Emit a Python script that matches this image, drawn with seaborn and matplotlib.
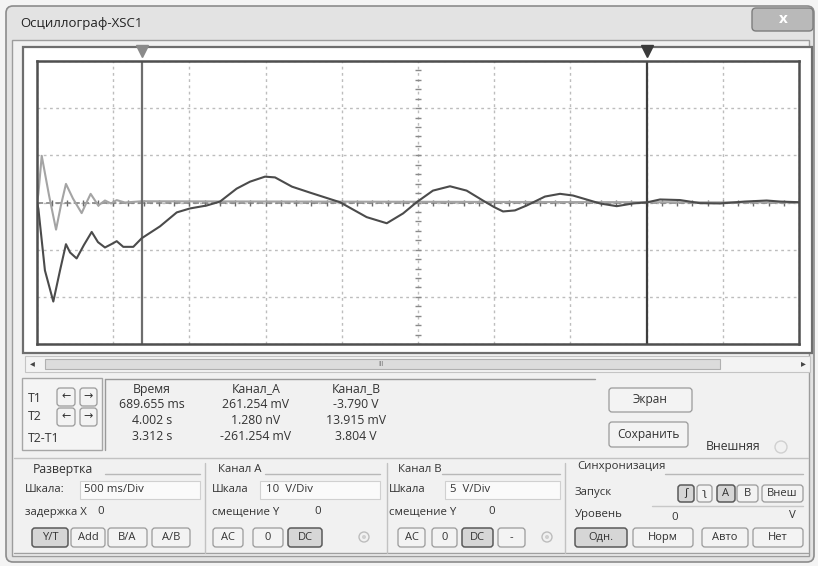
import numpy as np
import pandas as pd
import matplotlib
matplotlib.use("Agg")
import matplotlib.pyplot as plt
import matplotlib.transforms as mtransforms
from matplotlib.patches import Rectangle, FancyBboxPatch, Circle
import seaborn as sns

# ---------------- data ----------------
time_b = [0.000, 0.009, 0.052, 0.107, 0.151, 0.190, 0.217, 0.260, 0.308, 0.359,
          0.400, 0.446, 0.490, 0.523, 0.566, 0.632, 0.687, 0.807, 0.917, 1.004,
          1.113, 1.201, 1.310, 1.398, 1.496, 1.562, 1.673, 1.791, 1.988, 2.163,
          2.295, 2.402, 2.491, 2.598, 2.710, 2.819, 2.926, 3.000, 3.058, 3.136,
          3.213, 3.333, 3.432, 3.517, 3.694, 3.804, 3.911, 4.002, 4.088, 4.219,
          4.350, 4.481, 4.645, 4.788, 4.875, 5.000]
chan_b = [0.0, -0.66, -7.2, -10.5, -7.2, -4.42, -5.3, -5.93, -4.5, -3.12,
          -4.2, -4.77, -4.4, -4.1, -4.7, -4.7, -3.79, -2.53, -1.05, -0.63,
          -0.32, 0.10, 1.47, 2.21, 2.74, 2.66, 1.68, 1.05, 0.03, -1.55,
          -2.20, -1.16, 0.03, 1.26, 1.72, 1.26, 0.21, -0.49, -0.95, -0.84,
          -0.32, 0.63, 0.92, 0.74, -0.10, -0.39, -0.10, 0.014, 0.32, 0.26,
          -0.07, -0.10, 0.10, 0.21, 0.10, 0.03]
time_a = [0.000, 0.009, 0.031, 0.079, 0.125, 0.157, 0.190, 0.236, 0.293, 0.322,
          0.352, 0.402, 0.446, 0.486, 0.523, 0.577, 0.687, 5.000]
chan_a = [0.0, 1.83, 9.9, 1.5, -5.75, -0.6, 3.94, 0.84, -2.25, -0.2,
          1.83, -0.63, 0.42, -0.2, 0.5, 0.0, 0.26, 0.0]

t1_time = 0.689655
t2_time = 4.002
time_per_div = 0.5
a_volts_per_div = 10
b_volts_per_div = 5
n_xdiv = 10
n_ydiv = 6

window_title = "Осциллограф-XSC1"
table_headers = ["Время", "Канал_А", "Канал_В"]
table_rows = [["689.655 ms", "261.254 mV", "-3.790 V"],
              ["4.002 s", "1.280 nV", "13.915 mV"],
              ["3.312 s", "-261.254 mV", "3.804 V"]]
row_labels = ["T1", "T2", "T2-T1"]

# ---------------- figure ----------------
sns.set_theme(style="white")
plt.rcParams['font.family'] = ['Open Sans', 'DejaVu Sans']

W, H = 818, 566
fig = plt.figure(figsize=(W / 100, H / 100), dpi=100)
fig.patch.set_facecolor("#f4f4f4")

bg = fig.add_axes([0, 0, 1, 1])
bg.set_xlim(0, W)
bg.set_ylim(H, 0)
bg.axis("off")

TXT = "#333333"
FS = 8.2
FS_TAB = 8.8


def rect(x0, y0, x1, y1, fc="none", ec="#999999", lw=1.0, z=1):
    bg.add_patch(Rectangle((x0, y0), x1 - x0, y1 - y0, facecolor=fc,
                           edgecolor=ec, linewidth=lw, zorder=z))


def rbox(x0, y0, x1, y1, fc, ec, lw=1.0, r=3, z=2):
    bg.add_patch(FancyBboxPatch((x0, y0), x1 - x0, y1 - y0,
                                boxstyle=f"round,pad=0,rounding_size={r}",
                                facecolor=fc, edgecolor=ec, linewidth=lw, zorder=z))


def text(x, y, s, fs=FS, ha="left", color=TXT, **kw):
    bg.text(x, y, s, fontsize=fs, ha=ha, va="center", color=color, zorder=5, **kw)


def button(x0, y0, x1, y1, label, pressed=False, fs=FS - 0.2):
    fc = "#d6d6d6" if pressed else "#f3f3f3"
    ec = "#5a5a5a" if pressed else "#9a9a9a"
    rbox(x0, y0, x1, y1, fc, ec, lw=1.1 if pressed else 0.9)
    text((x0 + x1) / 2, (y0 + y1) / 2, label, fs=fs, ha="center")


def hline(x0, x1, y, c="#a8a8a8", lw=1.0):
    bg.plot([x0, x1], [y, y], color=c, lw=lw, zorder=3)


def vline(x, y0, y1, c="#a8a8a8", lw=1.0):
    bg.plot([x, x], [y0, y1], color=c, lw=lw, zorder=3)


# window frame
rbox(6, 6, 814, 562, "#e3e3e3", "#8c8c8c", lw=1.2, r=7, z=0)
rect(12, 40, 809, 556, fc="#f1f1f1", ec="#9c9c9c", lw=1.0, z=0)
text(20, 24, window_title, fs=9.5, color="#222222")
rbox(752, 8, 813, 31, "#b9b9b9", "#7d7d7d", lw=1.0, r=4)
text(783, 19, "x", fs=11, ha="center", color="white", fontweight="bold")

# display panel
rect(23, 47, 812, 353, fc="white", ec="#6e6e6e", lw=1.6, z=0)

# scrollbar
rect(25, 356, 810, 372, fc="#f3f3f3", ec="#c4c4c4", lw=0.8)
rect(45, 359, 720, 369, fc="#dcdcdc", ec="#b0b0b0", lw=0.8)
text(32, 364, "◂", fs=7, ha="center", color="#444444")
text(803, 364, "▸", fs=7, ha="center", color="#444444")
text(381, 364, "III", fs=5, ha="center", color="#777777")

# cursor panel
rect(22, 378, 102, 450, fc="#f4f4f4", ec="#a6a6a6", lw=1.0)
hline(105, 595, 379, c="#9a9a9a")
vline(105, 379, 450, c="#9a9a9a")
for lbl, y in zip(row_labels, [398, 416, 439]):
    text(28, y, lbl, fs=FS_TAB)
for yc in [397, 417]:
    button(57, yc - 9, 75, yc + 9, "←", fs=8)
    button(80, yc - 9, 97, yc + 9, "→", fs=8)

col_x = [152, 256, 356]
for cx, hdr in zip(col_x, table_headers):
    text(cx, 389, hdr, fs=FS_TAB, ha="center")
for r, y in zip(table_rows, [405, 421, 437]):
    for cx, val in zip(col_x, r):
        text(cx, y, val, fs=FS_TAB, ha="center")

button(609, 388, 692, 412, "Экран", fs=8.6)
button(609, 422, 688, 447, "Сохранить", fs=8.6)
text(706, 447, "Внешняя", fs=8.8)
bg.add_patch(Circle((781, 447), 6, facecolor="none", edgecolor="#d0d0d0", lw=1.0, zorder=3))

# lower control groups
hline(14, 808, 458, c="#c2c2c2")
hline(14, 808, 553, c="#a0a0a0")
for x in [205, 387, 565]:
    vline(x, 463, 553, c="#c2c2c2")

text(33, 469, "Развертка", fs=8.8)
hline(105, 200, 474, c="#b8b8b8")
text(218, 469, "Канал А")
hline(265, 380, 474, c="#b8b8b8")
text(398, 469, "Канал В")
hline(442, 560, 474, c="#b8b8b8")
text(577, 467, "Синхронизация")
hline(665, 803, 474, c="#b8b8b8")

# Развертка
text(25, 490, "Шкала:")
rect(80, 481, 200, 499, fc="#fafafa", ec="#d0d0d0", lw=0.8)
text(84, 490, "500 ms/Div")
text(25, 512, "задержка X")
text(97, 512, "0")
for (x0, x1, lbl, p) in [(32, 68, "Y/T", True), (71, 105, "Add", False),
                         (108, 147, "B/A", False), (152, 190, "A/B", False)]:
    button(x0, 528, x1, 547, lbl, pressed=p)

# Канал А
text(212, 490, "Шкала")
rect(260, 481, 380, 499, fc="#fafafa", ec="#d0d0d0", lw=0.8)
text(266, 490, "10  V/Div")
text(212, 512, "смещение Y")
text(314, 512, "0")
for (x0, x1, lbl, p) in [(213, 243, "AC", False), (253, 283, "0", False),
                         (288, 322, "DC", True)]:
    button(x0, 528, x1, 547, lbl, pressed=p)
bg.add_patch(Circle((364, 537), 5, facecolor="none", edgecolor="#bdbdbd", lw=1.0, zorder=3))
bg.add_patch(Circle((364, 537), 2, facecolor="#cfcfcf", edgecolor="none", zorder=3))

# Канал В
text(389, 490, "Шкала")
rect(445, 481, 560, 499, fc="#fafafa", ec="#d0d0d0", lw=0.8)
text(450, 490, "5  V/Div")
text(389, 512, "смещение Y")
text(488, 512, "0")
for (x0, x1, lbl, p) in [(398, 425, "AC", False), (432, 457, "0", False),
                         (462, 493, "DC", True), (498, 525, "-", False)]:
    button(x0, 528, x1, 547, lbl, pressed=p)
bg.add_patch(Circle((547, 537), 5, facecolor="none", edgecolor="#bdbdbd", lw=1.0, zorder=3))
bg.add_patch(Circle((547, 537), 2, facecolor="#cfcfcf", edgecolor="none", zorder=3))

# Синхронизация
text(575, 493, "Запуск")
for (x0, x1, lbl, p) in [(678, 694, "ʃ", True), (697, 712, "ʅ", False),
                         (717, 735, "A", True), (737, 758, "B", False),
                         (762, 803, "Внеш", False)]:
    button(x0, 485, x1, 502, lbl, pressed=p, fs=8)
text(575, 515, "Уровень")
hline(652, 803, 506, c="#c8c8c8")
text(671, 517, "0")
text(789, 516, "V")
for (x0, x1, lbl, p) in [(575, 627, "Одн.", True), (633, 693, "Норм", False),
                         (702, 748, "Авто", False), (753, 803, "Нет", False)]:
    button(x0, 528, x1, 547, lbl, pressed=p)

# ---------------- oscilloscope screen ----------------
sx0, sy0, sx1, sy1 = 37, 61, 799, 344
ax = fig.add_axes([sx0 / W, 1 - sy1 / H, (sx1 - sx0) / W, (sy1 - sy0) / H])
ax.set_facecolor("white")
t_max = n_xdiv * time_per_div
a_lim = n_ydiv / 2 * a_volts_per_div
b_lim = n_ydiv / 2 * b_volts_per_div
ax.set_xlim(0, t_max)
ax.set_ylim(-a_lim, a_lim)
ax.set_xticks(np.arange(0, t_max + 1e-9, time_per_div))
ax.set_yticks(np.arange(-a_lim, a_lim + 1e-9, a_volts_per_div))
ax.grid(True, color="#bdbdbd", linestyle=(0, (2, 2.5)), linewidth=1.0)
ax.tick_params(length=0, labelbottom=False, labelleft=False)
for s in ax.spines.values():
    s.set_color("#4f4f4f")
    s.set_linewidth(1.8)

# center marks
minor_t = np.arange(0, t_max + 1e-9, time_per_div / 5)
ax.plot(minor_t, np.zeros_like(minor_t), linestyle="none", marker="|",
        markersize=4, color="#6a6a6a", mew=1.0)
ax.axhline(0, color="#7a7a7a", lw=1.1, linestyle=(0, (4, 2)))
minor_v = np.arange(-a_lim, a_lim + 1e-9, a_volts_per_div / 5)
ax.plot(np.full_like(minor_v, t_max / 2), minor_v, linestyle="none", marker="_",
        markersize=4, color="#8a8a8a", mew=1.0)

df_a = pd.DataFrame({"t": time_a, "v": chan_a})
sns.lineplot(data=df_a, x="t", y="v", ax=ax, color="#a4a4a4", lw=1.5,
             estimator=None, sort=False)

ax2 = ax.twinx()
ax2.set_ylim(-b_lim, b_lim)
ax2.tick_params(length=0, labelright=False)
for s in ax2.spines.values():
    s.set_visible(False)
df_b = pd.DataFrame({"t": time_b, "v": chan_b})
sns.lineplot(data=df_b, x="t", y="v", ax=ax2, color="#4b4b4b", lw=1.5,
             estimator=None, sort=False)
ax.set_xlabel("")
ax.set_ylabel("")
ax2.set_xlabel("")
ax2.set_ylabel("")

# cursors
ax.axvline(t1_time, color="#6e6e6e", lw=1.6)
ax.axvline(t2_time, color="#3e3e3e", lw=1.6)
trans = mtransforms.blended_transform_factory(ax.transData, ax.transAxes)
for tc, fc in [(t1_time, "#8a8a8a"), (t2_time, "#3a3a3a")]:
    ax.plot([tc], [1.035], marker="v", markersize=9, color=fc,
            transform=trans, clip_on=False, zorder=6)

fig.savefig("out.png", dpi=100, facecolor=fig.get_facecolor())
